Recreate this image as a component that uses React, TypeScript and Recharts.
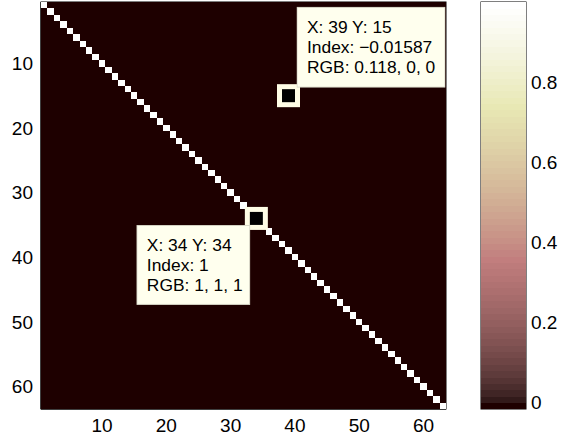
import React from 'react';
import {
  ScatterChart,
  Scatter,
  XAxis,
  YAxis,
  ReferenceDot,
  ReferenceArea,
  ReferenceLine,
} from 'recharts';

// ---------------- data ----------------
const matrixSize = 63;
const rowNumbers = Array.from({ length: matrixSize }, (_, i) => i + 1);
const colNumbers = Array.from({ length: matrixSize }, (_, i) => i + 1);
const diagonalValue = 1;
const offDiagonalValue = -0.01587;
const xTicks = [10, 20, 30, 40, 50, 60];
const yTicks = [10, 20, 30, 40, 50, 60];
const colorbarTicks = [0, 0.2, 0.4, 0.6, 0.8];
const datatipCells = [
  { x: 39, y: 15, side: 'ne' },
  { x: 34, y: 34, side: 'sw' },
];
const colormapSize = 64;

// ---------------- helpers ----------------
const FONT = '"Liberation Sans", Arial, Helvetica, sans-serif';
const TIP_FONT_SIZE = 17.4;
const TICK_FONT_SIZE = 19;

const cells = rowNumbers.flatMap((r) =>
  colNumbers.map((c) => ({ x: c, y: r, v: r === c ? diagonalValue : offDiagonalValue }))
);
const cmin = Math.min(...cells.map((d) => d.v));
const cmax = Math.max(...cells.map((d) => d.v));

// MATLAB "pink" colormap
function pinkMap(m: number): number[][] {
  const n = Math.floor((3 / 8) * m);
  const out: number[][] = [];
  for (let i = 0; i < m; i++) {
    const gray = i / (m - 1);
    const r = i < n ? (i + 1) / n : 1;
    const g = i < n ? 0 : i < 2 * n ? (i - n + 1) / n : 1;
    const b = i < 2 * n ? 0 : (i - 2 * n + 1) / (m - 2 * n);
    out.push([r, g, b].map((h) => Math.sqrt((2 * gray + h) / 3)));
  }
  return out;
}
const pink = pinkMap(colormapSize);
const toHex = (rgb: number[]) =>
  '#' + rgb.map((c) => Math.round(c * 255).toString(16).padStart(2, '0')).join('');
const colorIndex = (v: number) =>
  Math.max(0, Math.min(colormapSize - 1, Math.floor(((v - cmin) / (cmax - cmin)) * colormapSize)));
const colorOf = (v: number) => toHex(pink[colorIndex(v)]);

const bandStep = (cmax - cmin) / colormapSize;
const colorbarBands = pink.map((rgb, i) => ({
  x: 0.5,
  y: cmin + (i + 0.5) * bandStep,
  color: toHex(rgb),
}));

const fmt = (v: number, p: number) => {
  const s = String(Number(v.toPrecision(p)));
  return s.replace('-', '\u2212');
};

// ---------------- layout ----------------
const W = 561;
const H = 445;
const MAIN_MARGIN = { top: 2, right: 115, bottom: 0, left: 0 };
const Y_AXIS_W = 41;
const X_AXIS_H = 36;
const plotW = W - MAIN_MARGIN.left - MAIN_MARGIN.right - Y_AXIS_W;
const plotH = H - MAIN_MARGIN.top - MAIN_MARGIN.bottom - X_AXIS_H;
const cellW = plotW / matrixSize;
const cellH = plotH / matrixSize;

const CB_MARGIN = { top: 2, right: 0, bottom: 36, left: 481 };
const CB_AXIS_W = 35;
const cbW = W - CB_MARGIN.left - CB_MARGIN.right - CB_AXIS_W;
const cbH = H - CB_MARGIN.top - CB_MARGIN.bottom;
const bandH = cbH / colormapSize;

const BottomTick = (p: any) => (
  <text
    x={p.x}
    y={p.y}
    dy="0.71em"
    textAnchor="middle"
    fontFamily={FONT}
    fontSize={TICK_FONT_SIZE}
    fill="#000"
  >
    {p.payload.value}
  </text>
);
const LeftTick = (p: any) => (
  <text
    x={p.x}
    y={p.y}
    dy="0.355em"
    textAnchor="end"
    fontFamily={FONT}
    fontSize={TICK_FONT_SIZE}
    fill="#000"
  >
    {p.payload.value}
  </text>
);
const RightTick = (p: any) => (
  <text
    x={p.x}
    y={p.y}
    dy="0.355em"
    textAnchor="start"
    fontFamily={FONT}
    fontSize={TICK_FONT_SIZE}
    fill="#000"
  >
    {p.payload.value}
  </text>
);

const CellShape = (props: any) => {
  const { cx, cy, payload } = props;
  return (
    <rect
      x={cx - cellW / 2}
      y={cy - cellH / 2}
      width={cellW + 0.4}
      height={cellH + 0.4}
      fill={colorOf(payload.v)}
      shapeRendering="crispEdges"
    />
  );
};

const BandShape = (props: any) => {
  const { cx, cy, payload } = props;
  return (
    <rect
      x={cx - cbW / 2}
      y={cy - bandH / 2 - 0.3}
      width={cbW}
      height={bandH + 0.6}
      fill={payload.color}
      fillOpacity={1}
      shapeRendering="crispEdges"
    />
  );
};

const Datatip = ({ cx, cy, tip }: any) => {
  const value = cells.find((d) => d.x === tip.x && d.y === tip.y)!.v;
  const rgb = pink[colorIndex(value)].map((c) => fmt(c, 3)).join(', ');
  const lines = [`X: ${tip.x} Y: ${tip.y}`, `Index: ${fmt(value, 4)}`, `RGB: ${rgb}`];
  let bx: number, by: number, bw: number, bh: number;
  if (tip.side === 'ne') {
    bx = cx + 8;
    by = cy - 89;
    bw = 149;
    bh = 81;
  } else {
    bx = cx - 120;
    by = cy + 6.5;
    bw = 114;
    bh = 80;
  }
  return (
    <g>
      <rect x={cx - 9} y={cy - 9} width={18} height={18} fill="#000" stroke="#fffde6" strokeWidth={5} />
      <svg x={bx} y={by} width={bw} height={bh} overflow="hidden">
        <rect x={0.5} y={0.5} width={bw - 1} height={bh - 1} fill="#ffffee" stroke="#d6d6c6" strokeWidth={1} />
        {lines.map((t, i) => (
          <text key={i} x={10.5} y={26.5 + i * 20} fontFamily={FONT} fontSize={TIP_FONT_SIZE} fill="#000">
            {t}
          </text>
        ))}
      </svg>
    </g>
  );
};

const frameShape = (p: any) => (
  <rect x={p.x} y={p.y} width={p.width} height={p.height} fill="none" stroke="#000" strokeWidth={1} />
);

export default function App() {
  return (
    <div style={{ position: 'absolute', left: 0, top: 0, width: W, height: H, background: '#fff' }}>
      <div style={{ position: 'absolute', left: 0, top: 0 }}>
        <ScatterChart width={W} height={H} margin={MAIN_MARGIN}>
          <XAxis
            type="number"
            dataKey="x"
            domain={[0.5, matrixSize + 0.5]}
            allowDataOverflow
            ticks={xTicks}
            tickLine={false}
            tickSize={0}
            tickMargin={10}
            height={X_AXIS_H}
            axisLine={{ stroke: '#000' }}
            tick={BottomTick}
            interval={0}
          />
          <YAxis
            type="number"
            dataKey="y"
            reversed
            domain={[0.5, matrixSize + 0.5]}
            allowDataOverflow
            ticks={yTicks}
            tickLine={false}
            tickSize={0}
            tickMargin={8}
            width={Y_AXIS_W}
            axisLine={{ stroke: '#000' }}
            tick={LeftTick}
            interval={0}
          />
          <Scatter data={cells} shape={CellShape} isAnimationActive={false} />
          {xTicks.map((t) => (
            <ReferenceLine
              key={'xb' + t}
              segment={[{ x: t, y: matrixSize + 0.5 }, { x: t, y: matrixSize - 0.1 }]}
              stroke="#000"
            />
          ))}
          {xTicks.map((t) => (
            <ReferenceLine key={'xt' + t} segment={[{ x: t, y: 0.5 }, { x: t, y: 1.1 }]} stroke="#000" />
          ))}
          {yTicks.map((t) => (
            <ReferenceLine key={'yl' + t} segment={[{ x: 0.5, y: t }, { x: 1.1, y: t }]} stroke="#000" />
          ))}
          {yTicks.map((t) => (
            <ReferenceLine
              key={'yr' + t}
              segment={[{ x: matrixSize + 0.5, y: t }, { x: matrixSize - 0.1, y: t }]}
              stroke="#000"
            />
          ))}
          <ReferenceArea
            x1={0.5}
            x2={matrixSize + 0.5}
            y1={0.5}
            y2={matrixSize + 0.5}
            ifOverflow="visible"
            shape={frameShape}
          />
          {datatipCells.map((tip) => (
            <ReferenceDot
              key={tip.x + '-' + tip.y}
              x={tip.x}
              y={tip.y}
              r={0}
              ifOverflow="visible"
              shape={(p: any) => <Datatip cx={p.cx} cy={p.cy} tip={tip} />}
            />
          ))}
        </ScatterChart>
      </div>
      <div style={{ position: 'absolute', left: 0, top: 0 }}>
        <ScatterChart width={W} height={H} margin={CB_MARGIN}>
          <XAxis type="number" dataKey="x" domain={[0, 1]} hide allowDataOverflow />
          <YAxis
            type="number"
            dataKey="y"
            orientation="right"
            domain={[cmin, cmax]}
            allowDataOverflow
            ticks={colorbarTicks}
            tickLine={false}
            tickSize={0}
            tickMargin={5}
            width={CB_AXIS_W}
            axisLine={false}
            tick={RightTick}
            interval={0}
          />
          <Scatter data={colorbarBands} shape={BandShape} isAnimationActive={false} />
          {colorbarTicks.map((t) => (
            <ReferenceLine key={'cl' + t} segment={[{ x: 0, y: t }, { x: 0.1, y: t }]} stroke="#000" />
          ))}
          {colorbarTicks.map((t) => (
            <ReferenceLine key={'cr' + t} segment={[{ x: 1, y: t }, { x: 0.9, y: t }]} stroke="#000" />
          ))}
          <ReferenceArea x1={0} x2={1} y1={cmin} y2={cmax} ifOverflow="visible" shape={frameShape} />
        </ScatterChart>
      </div>
    </div>
  );
}
